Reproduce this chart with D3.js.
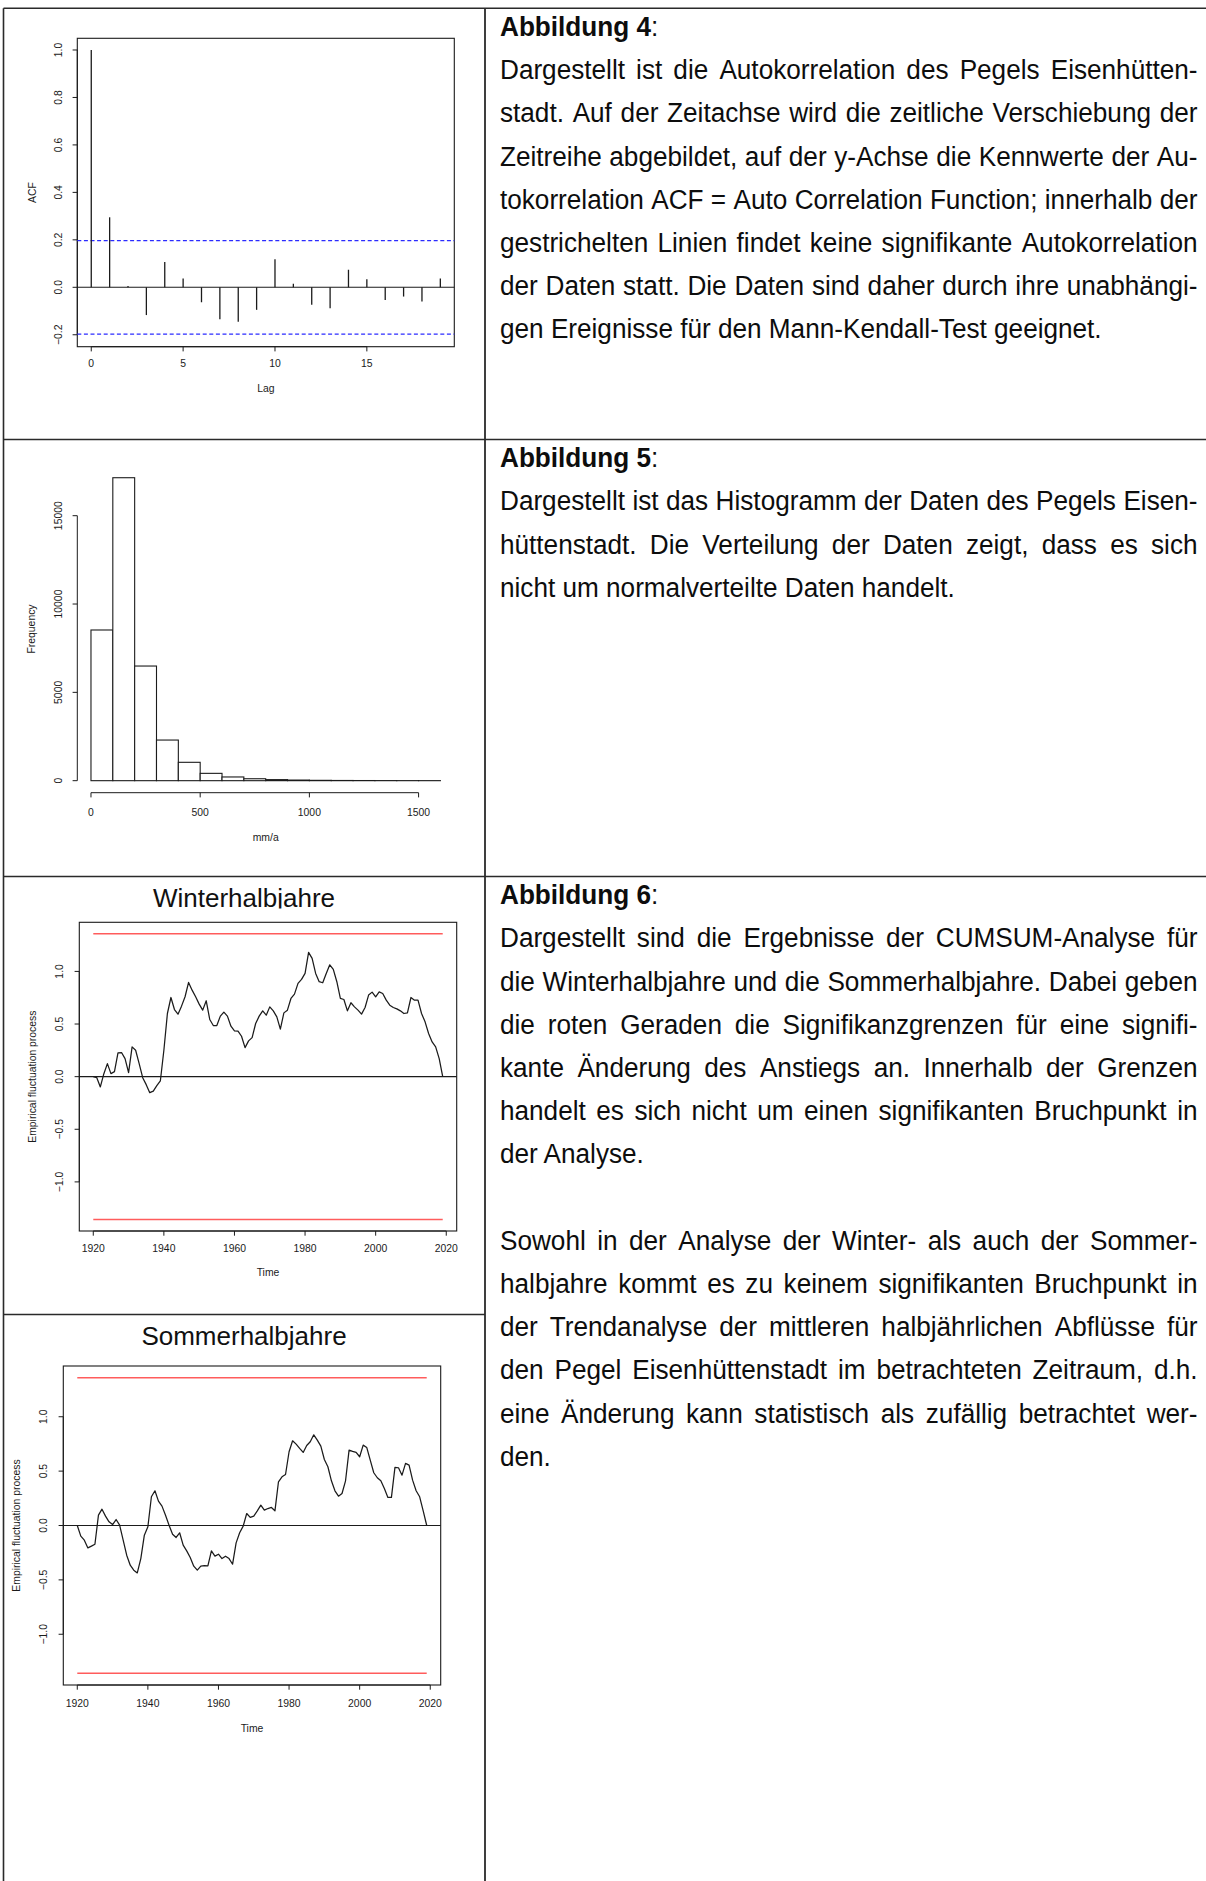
<!DOCTYPE html>
<html>
<head>
<meta charset="utf-8">
<script src="https://cdn.jsdelivr.net/npm/d3@7"></script>
<style>
  html, body { margin: 0; padding: 0; background: #fff; }
  svg { display: block; }
</style>
</head>
<body>
<script>
// ---------- data ----------
// Autocorrelation of the gauge series (lag 0..19)
const acfLags = [0, 1, 2, 3, 4, 5, 6, 7, 8, 9, 10, 11, 12, 13, 14, 15, 16, 17, 18, 19];
const acfValues = [1.000, 0.295, 0.005, -0.117, 0.107, 0.037, -0.063, -0.135, -0.145, -0.095,
                   0.118, 0.015, -0.073, -0.088, 0.074, 0.034, -0.053, -0.039, -0.060, 0.037];
const acfBound = 0.197;
const acfXTicks = [0, 5, 10, 15];
const acfYTicks = [-0.2, 0.0, 0.2, 0.4, 0.6, 0.8, 1.0];

// Histogram of daily discharge values (mm/a), bins of 100
const histBreaks = [0, 100, 200, 300, 400, 500, 600, 700, 800, 900, 1000, 1100, 1200, 1300, 1400, 1500, 1600];
const histCounts = [8530, 17150, 6490, 2300, 1040, 415, 210, 110, 60, 35, 20, 12, 8, 5, 3, 2];
const histXTicks = [0, 500, 1000, 1500];
const histYTicks = [0, 5000, 10000, 15000];

// OLS-CUSUM empirical fluctuation processes, 1920..2019
const cusumStartYear = 1920;
const winterEfp = [
  0.000, -0.010, -0.098, 0.028, 0.124, 0.029, 0.048, 0.225, 0.229, 0.171,
  0.038, 0.283, 0.251, 0.124, -0.010, -0.076, -0.152, -0.137, -0.086, -0.041,
  0.251, 0.600, 0.752, 0.638, 0.594, 0.670, 0.759, 0.895, 0.822, 0.759,
  0.689, 0.632, 0.721, 0.543, 0.486, 0.486, 0.575, 0.613, 0.575, 0.479,
  0.435, 0.432, 0.384, 0.276, 0.340, 0.371, 0.505, 0.575, 0.625, 0.584,
  0.663, 0.625, 0.568, 0.451, 0.606, 0.632, 0.743, 0.784, 0.886, 0.924,
  0.981, 1.181, 1.124, 0.981, 0.902, 0.892, 0.981, 1.063, 1.019, 0.902,
  0.743, 0.733, 0.625, 0.702, 0.663, 0.632, 0.594, 0.657, 0.775, 0.803,
  0.759, 0.806, 0.790, 0.727, 0.679, 0.657, 0.644, 0.625, 0.600, 0.606,
  0.752, 0.727, 0.727, 0.600, 0.521, 0.410, 0.330, 0.283, 0.171, 0.000
];
const summerEfp = [
  0.000, -0.098, -0.135, -0.206, -0.190, -0.172, 0.095, 0.150, 0.086, 0.034,
  0.009, 0.055, 0.003, -0.135, -0.273, -0.365, -0.411, -0.436, -0.304, -0.089,
  -0.012, 0.264, 0.319, 0.224, 0.178, 0.095, 0.003, -0.080, -0.110, -0.067,
  -0.181, -0.233, -0.294, -0.374, -0.411, -0.374, -0.368, -0.371, -0.233, -0.282,
  -0.264, -0.304, -0.282, -0.304, -0.356, -0.160, -0.067, -0.006, 0.110, 0.074,
  0.086, 0.135, 0.187, 0.141, 0.156, 0.166, 0.135, 0.402, 0.448, 0.469,
  0.678, 0.779, 0.748, 0.709, 0.672, 0.736, 0.770, 0.834, 0.785, 0.730,
  0.607, 0.540, 0.411, 0.319, 0.270, 0.294, 0.411, 0.693, 0.681, 0.672,
  0.632, 0.739, 0.718, 0.601, 0.485, 0.439, 0.411, 0.340, 0.258, 0.258,
  0.534, 0.531, 0.463, 0.571, 0.555, 0.417, 0.319, 0.264, 0.135, 0.000
];
const cusumBound = 1.358;
const cusumXTicks = [1920, 1940, 1960, 1980, 2000, 2020];
const cusumYTicks = [-1.0, -0.5, 0.0, 0.5, 1.0];

// Caption texts, line by line (paragraphs)
const caption4 = [[
  "Dargestellt ist die Autokorrelation des Pegels Eisenhütten-",
  "stadt. Auf der Zeitachse wird die zeitliche Verschiebung der",
  "Zeitreihe abgebildet, auf der y-Achse die Kennwerte der Au-",
  "tokorrelation ACF = Auto Correlation Function; innerhalb der",
  "gestrichelten Linien findet keine signifikante Autokorrelation",
  "der Daten statt. Die Daten sind daher durch ihre unabhängi-",
  "gen Ereignisse für den Mann-Kendall-Test geeignet."
]];
const caption5 = [[
  "Dargestellt ist das Histogramm der Daten des Pegels Eisen-",
  "hüttenstadt. Die Verteilung der Daten zeigt, dass es sich",
  "nicht um normalverteilte Daten handelt."
]];
const caption6 = [[
  "Dargestellt sind die Ergebnisse der CUMSUM-Analyse für",
  "die Winterhalbjahre und die Sommerhalbjahre. Dabei geben",
  "die roten Geraden die Signifikanzgrenzen für eine signifi-",
  "kante Änderung des Anstiegs an. Innerhalb der Grenzen",
  "handelt es sich nicht um einen signifikanten Bruchpunkt in",
  "der Analyse."
], [
  "Sowohl in der Analyse der Winter- als auch der Sommer-",
  "halbjahre kommt es zu keinem signifikanten Bruchpunkt in",
  "der Trendanalyse der mittleren halbjährlichen Abflüsse für",
  "den Pegel Eisenhüttenstadt im betrachteten Zeitraum, d.h.",
  "eine Änderung kann statistisch als zufällig betrachtet wer-",
  "den."
]];

// ---------- page setup ----------
const W = 1206, H = 1881;
const FONT_CHART = "'Liberation Sans', Arial, Helvetica, sans-serif";
const FONT_TEXT = "'Liberation Sans', Arial, sans-serif";
const CHART_FS = 10.4;
const TICK = 4.7;
const INK = "#1b1b1b";

const svg = d3.select("body").append("svg")
  .attr("width", W).attr("height", H)
  .attr("viewBox", `0 0 ${W} ${H}`);

svg.append("rect").attr("width", W).attr("height", H).attr("fill", "#fff");

// ---------- table grid ----------
const COL_L = 3.5, COL_M = 485;
const ROW_TOPS = [8.3, 439.5, 876.5];
const grid = svg.append("g").attr("stroke", "#2a2a2a").attr("fill", "none");
grid.append("line").attr("x1", COL_L).attr("x2", COL_L).attr("y1", ROW_TOPS[0]).attr("y2", H).attr("stroke-width", 1.6);
grid.append("line").attr("x1", COL_M).attr("x2", COL_M).attr("y1", ROW_TOPS[0]).attr("y2", H).attr("stroke-width", 1.8);
ROW_TOPS.forEach(y => grid.append("line").attr("x1", COL_L).attr("x2", W).attr("y1", y).attr("y2", y).attr("stroke-width", 1.4));
grid.append("line").attr("x1", COL_L).attr("x2", COL_M).attr("y1", 1314.5).attr("y2", 1314.5).attr("stroke-width", 1.4);

// ---------- helpers for R-style axes ----------
function chartText(g, x, y, str, rotate) {
  const t = g.append("text")
    .attr("font-family", FONT_CHART)
    .attr("font-size", CHART_FS)
    .attr("fill", INK)
    .attr("text-anchor", "middle")
    .text(str);
  if (rotate) t.attr("transform", `translate(${x},${y}) rotate(-90)`);
  else t.attr("x", x).attr("y", y);
  return t;
}

function axisBottom(g, x, ticks, yLine, labelBase, fmt) {
  g.append("line")
    .attr("x1", x(ticks[0])).attr("x2", x(ticks[ticks.length - 1]))
    .attr("y1", yLine).attr("y2", yLine)
    .attr("stroke", INK).attr("stroke-width", 1);
  ticks.forEach(t => {
    g.append("line").attr("x1", x(t)).attr("x2", x(t))
      .attr("y1", yLine).attr("y2", yLine + TICK)
      .attr("stroke", INK).attr("stroke-width", 1);
    chartText(g, x(t), labelBase, fmt(t));
  });
}

function axisLeft(g, y, ticks, xLine, labelBase, fmt) {
  g.append("line")
    .attr("x1", xLine).attr("x2", xLine)
    .attr("y1", y(ticks[0])).attr("y2", y(ticks[ticks.length - 1]))
    .attr("stroke", INK).attr("stroke-width", 1);
  ticks.forEach(t => {
    g.append("line").attr("x1", xLine - TICK).attr("x2", xLine)
      .attr("y1", y(t)).attr("y2", y(t))
      .attr("stroke", INK).attr("stroke-width", 1);
    chartText(g, labelBase, y(t), fmt(t), true);
  });
}

function box(g, x0, x1, y0, y1) {
  g.append("rect").attr("x", x0).attr("y", y0)
    .attr("width", x1 - x0).attr("height", y1 - y0)
    .attr("fill", "none").attr("stroke", INK).attr("stroke-width", 1.1);
}

const fmt1 = d3.format(".1f");
const fmtInt = d3.format("d");

// ---------- Abbildung 4: ACF ----------
(function () {
  const L = { left: 77.3, right: 454.3, top: 38.3, bottom: 346.7 };
  const g = svg.append("g");
  const x = d3.scaleLinear().domain([-0.76, 19.76]).range([L.left, L.right]);
  const y = d3.scaleLinear().domain([-0.2503, 1.0493]).range([L.bottom, L.top]);

  box(g, L.left, L.right, L.top, L.bottom);
  axisLeft(g, y, acfYTicks, L.left, 62, fmt1);
  axisBottom(g, x, acfXTicks, L.bottom, 367, fmtInt);
  chartText(g, (L.left + L.right) / 2, 391.5, "Lag");
  chartText(g, 35.5, (L.top + L.bottom) / 2, "ACF", true);

  // zero line
  g.append("line").attr("x1", L.left).attr("x2", L.right)
    .attr("y1", y(0)).attr("y2", y(0)).attr("stroke", INK).attr("stroke-width", 1.1);

  // confidence bounds
  [acfBound, -acfBound].forEach(b => {
    g.append("line").attr("x1", L.left).attr("x2", L.right)
      .attr("y1", y(b)).attr("y2", y(b))
      .attr("stroke", "#2b2bff").attr("stroke-width", 1.3)
      .attr("stroke-dasharray", "4,2.6");
  });

  // spikes
  g.selectAll("line.spike").data(acfLags).join("line")
    .attr("class", "spike")
    .attr("x1", d => x(d)).attr("x2", d => x(d))
    .attr("y1", y(0)).attr("y2", (d, i) => y(acfValues[i]))
    .attr("stroke", INK).attr("stroke-width", 1.3);
})();

// ---------- Abbildung 5: histogram ----------
(function () {
  const g = svg.append("g");
  const x = d3.scaleLinear().domain([-64, 1664]).range([77.0, 454.4]);
  const y = d3.scaleLinear().domain([-686, 17836]).range([792.8, 465.6]);

  const bins = histCounts.map((c, i) => ({ x0: histBreaks[i], x1: histBreaks[i + 1], n: c }));
  g.selectAll("rect.bin").data(bins).join("rect")
    .attr("class", "bin")
    .attr("x", d => x(d.x0)).attr("width", d => x(d.x1) - x(d.x0))
    .attr("y", d => y(d.n)).attr("height", d => y(0) - y(d.n))
    .attr("fill", "#fff").attr("stroke", INK).attr("stroke-width", 1.1);

  axisLeft(g, y, histYTicks, 77.3, 62, fmtInt);
  axisBottom(g, x, histXTicks, 792.7, 815.5, fmtInt);
  chartText(g, 265.7, 840.5, "mm/a");
  chartText(g, 34.5, 629, "Frequency", true);
})();

// ---------- Abbildung 6: CUSUM plots ----------
function cusumPlot(values, L, title, clipTitleAt) {
  const g = svg.append("g");
  const x = d3.scaleLinear().domain([1916.04, 2022.96]).range([L.left, L.right]);
  const y = d3.scaleLinear().domain([-1.4666, 1.4666]).range([L.bottom, L.top]);
  const years = values.map((v, i) => cusumStartYear + i);

  box(g, L.left, L.right, L.top, L.bottom);
  axisLeft(g, y, cusumYTicks, L.left, L.yLab, fmt1);
  axisBottom(g, x, cusumXTicks, L.bottom, L.xLab, fmtInt);
  chartText(g, (L.left + L.right) / 2, L.xTitle, "Time");
  chartText(g, L.yTitle, (L.top + L.bottom) / 2, "Empirical fluctuation process", true);

  // significance boundaries
  [cusumBound, -cusumBound].forEach(b => {
    g.append("line")
      .attr("x1", x(years[0])).attr("x2", x(years[years.length - 1]))
      .attr("y1", y(b)).attr("y2", y(b))
      .attr("stroke", "#ff5c5c").attr("stroke-width", 1.4);
  });

  // zero reference
  g.append("line").attr("x1", L.left).attr("x2", L.right)
    .attr("y1", y(0)).attr("y2", y(0)).attr("stroke", INK).attr("stroke-width", 1.1);

  const line = d3.line().x((d, i) => x(years[i])).y(d => y(d));
  g.append("path").datum(values)
    .attr("d", line)
    .attr("fill", "none").attr("stroke", INK)
    .attr("stroke-width", 1.25).attr("stroke-linejoin", "round");

  // panel title
  const tg = svg.append("g");
  if (clipTitleAt) {
    const id = "clip-" + title;
    svg.append("defs").append("clipPath").attr("id", id)
      .append("rect").attr("x", 0).attr("y", 0).attr("width", COL_M).attr("height", clipTitleAt);
    tg.attr("clip-path", `url(#${id})`);
  }
  tg.append("text")
    .attr("x", 244).attr("y", L.titleBase)
    .attr("text-anchor", "middle")
    .attr("font-family", FONT_CHART).attr("font-size", 26)
    .attr("fill", "#111")
    .text(title);
}

cusumPlot(winterEfp, {
  left: 79.3, right: 456.7, top: 922.3, bottom: 1231,
  yLab: 63.3, xLab: 1252, xTitle: 1276, yTitle: 35.5, titleBase: 907
}, "Winterhalbjahre", 908.5);

cusumPlot(summerEfp, {
  left: 63.3, right: 440.7, top: 1366, bottom: 1685,
  yLab: 46.7, xLab: 1707, xTitle: 1731.5, yTitle: 19.5, titleBase: 1345
}, "Sommerhalbjahre", null);

// ---------- captions (right column, justified) ----------
const TEXT_LEFT = 500, TEXT_RIGHT = 1197.5;
const TEXT_FS = 28;
const HEAD_OFF = 27.5, BODY_OFF = 71, LINE_H = 43.2;
// the caption face is set condensed: horizontal squeeze so that a plain
// (unjustified) line keeps its set width
const REF_LINE = "gen Ereignisse für den Mann-Kendall-Test geeignet.";
const REF_LINE_WIDTH = 602;

const probe = svg.append("text").attr("font-family", FONT_TEXT).attr("font-size", TEXT_FS)
  .attr("x", -5000).attr("y", -100).text(REF_LINE);
const TEXT_SX = REF_LINE_WIDTH / probe.node().getComputedTextLength();
probe.remove();

function caption(rowTop, num, paragraphs) {
  const g = svg.append("g")
    .attr("transform", `translate(${TEXT_LEFT},0) scale(${TEXT_SX},1)`)
    .attr("font-family", FONT_TEXT).attr("font-size", TEXT_FS).attr("fill", "#0d0d0d");
  const widthLocal = (TEXT_RIGHT - TEXT_LEFT) / TEXT_SX;

  const head = g.append("text").attr("x", 0).attr("y", rowTop + HEAD_OFF);
  head.append("tspan").attr("font-weight", "bold").text("Abbildung " + num);
  head.append("tspan").text(":");

  let lineNo = 0;
  paragraphs.forEach((para, pi) => {
    if (pi > 0) lineNo += 1; // blank line between paragraphs
    para.forEach((ln, li) => {
      const yBase = rowTop + BODY_OFF + lineNo * LINE_H;
      const last = li === para.length - 1;
      if (last) {
        g.append("text").attr("x", 0).attr("y", yBase).text(ln);
      } else {
        // each word measured on its own, then spread over the full measure
        const words = ln.split(" ");
        const widths = words.map(w => {
          const m = g.append("text").attr("x", 0).attr("y", -100).text(w);
          const wd = m.node().getComputedTextLength();
          m.remove();
          return wd;
        });
        const gap = (widthLocal - d3.sum(widths)) / Math.max(1, words.length - 1);
        const t = g.append("text").attr("y", yBase);
        let cx = 0;
        words.forEach((w, i) => {
          t.append("tspan").attr("x", cx).text(w);
          cx += widths[i] + gap;
        });
      }
      lineNo += 1;
    });
  });
}

caption(ROW_TOPS[0], 4, caption4);
caption(ROW_TOPS[1], 5, caption5);
caption(ROW_TOPS[2], 6, caption6);
</script>
</body>
</html>
